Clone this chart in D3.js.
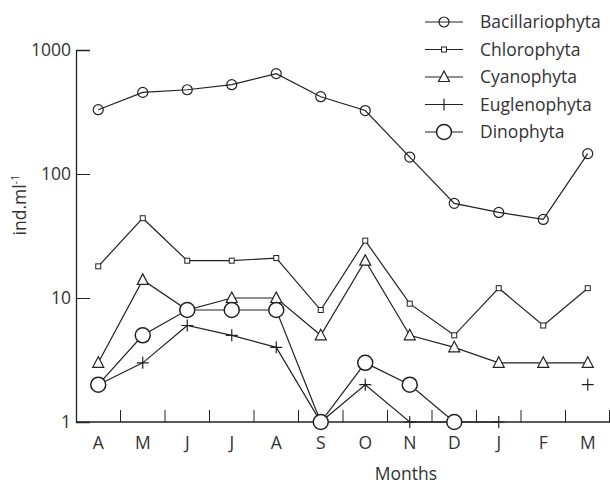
<!DOCTYPE html>
<html>
<head>
<meta charset="utf-8">
<script src="https://cdn.jsdelivr.net/npm/d3@7"></script>
<style>
  body { margin: 0; background: #fff; }
  text { font-family: "Open Sans", "Liberation Sans", Arial, sans-serif; fill: #333; }
</style>
</head>
<body>
<svg id="chart" width="610" height="486"></svg>
<script>
// months (April to March)
var months = ['A','M','J','J','A','S','O','N','D','J','F','M'];

// series values, ind.ml-1 (null = not shown)
var bacillariophyta = [330, 455, 478, 525, 645, 420, 325, 137, 58, 49, 43, 146];
var chlorophyta     = [18, 44, 20, 20, 21, 8, 29, 9, 5, 12, 6, 12];
var cyanophyta      = [3, 14, 8, 10, 10, 5, 20, 5, 4, 3, 3, 3];
var euglenophyta    = [2, 3, 6, 5, 4, 1, 2, 1, 1, 1, null, 2];
var dinophyta       = [2, 5, 8, 8, 8, 1, 3, 2, 1, null, null, null];

var yTicks = [1, 10, 100, 1000];

var series = [
  {name:'Bacillariophyta', values:bacillariophyta, marker:'smallcircle'},
  {name:'Chlorophyta', values:chlorophyta, marker:'square'},
  {name:'Cyanophyta', values:cyanophyta, marker:'triangle'},
  {name:'Euglenophyta', values:euglenophyta, marker:'plus'},
  {name:'Dinophyta', values:dinophyta, marker:'circle'}
];

var svg = d3.select('#chart');
var ink = '#222';
var fs = '17.5px';

var x = d3.scaleBand().domain(d3.range(months.length)).range([76, 610]);
var y = d3.scaleLog().domain([1, 1000]).range([422, 50]);

// y axis
var yAxis = svg.append('g')
  .attr('transform', 'translate(76,0)')
  .call(d3.axisLeft(y).tickValues(yTicks).tickSize(-14).tickPadding(5).tickFormat(d3.format('d')));
yAxis.select('.domain').attr('stroke', ink).attr('stroke-width', 1.3);
yAxis.selectAll('.tick line').attr('stroke', ink);
yAxis.selectAll('.tick text').style('font-size', fs).attr('fill', '#333')
  .style('font-family', '"Open Sans", "Liberation Sans", Arial, sans-serif');

// x axis: line + ticks at band edges
var gx = svg.append('g');
gx.append('line')
  .attr('x1', 76).attr('x2', 610)
  .attr('y1', y(1)).attr('y2', y(1))
  .attr('stroke', ink).attr('stroke-width', 1.3);
gx.selectAll('.edge').data(d3.range(1, months.length + 1))
  .enter().append('line')
  .attr('x1', function(i) { return Math.min(x(0) + i * x.bandwidth(), 609.5); })
  .attr('x2', function(i) { return Math.min(x(0) + i * x.bandwidth(), 609.5); })
  .attr('y1', y(1)).attr('y2', y(1) - 12)
  .attr('stroke', ink);
gx.selectAll('.mlabel').data(months)
  .enter().append('text')
  .attr('x', function(d, i) { return x(i) + x.bandwidth() / 2; })
  .attr('y', 449)
  .attr('text-anchor', 'middle')
  .style('font-size', fs)
  .text(function(d) { return d; });

svg.append('text')
  .attr('x', 406).attr('y', 480)
  .attr('text-anchor', 'middle')
  .style('font-size', fs)
  .text('Months');

// y label
var yl = svg.append('text')
  .attr('transform', 'translate(26,205) rotate(-90)')
  .attr('text-anchor', 'middle')
  .style('font-size', fs);
yl.append('tspan').text('ind.ml');
yl.append('tspan').attr('dy', -7).style('font-size', '11px').text('-1');

// markers
function drawMarker(g, type, cx, cy) {
  if (type === 'smallcircle') {
    g.append('circle').attr('cx', cx).attr('cy', cy).attr('r', 5)
      .attr('fill', 'none').attr('stroke', ink).attr('stroke-width', 1.2);
  } else if (type === 'circle') {
    g.append('circle').attr('cx', cx).attr('cy', cy).attr('r', 7.5)
      .attr('fill', '#fff').attr('stroke', ink).attr('stroke-width', 1.5);
  } else if (type === 'square') {
    g.append('rect').attr('x', cx - 2.5).attr('y', cy - 2.5).attr('width', 5).attr('height', 5)
      .attr('fill', '#fff').attr('stroke', ink).attr('stroke-width', 1);
  } else if (type === 'triangle') {
    g.append('path')
      .attr('d', 'M' + cx + ',' + (cy - 6) + 'L' + (cx + 5.5) + ',' + (cy + 4.5) + 'L' + (cx - 5.5) + ',' + (cy + 4.5) + 'Z')
      .attr('fill', '#fff').attr('stroke', ink).attr('stroke-width', 1.2);
  } else if (type === 'plus') {
    g.append('path')
      .attr('d', 'M' + (cx - 6) + ',' + cy + 'H' + (cx + 6) + 'M' + cx + ',' + (cy - 6) + 'V' + (cy + 6))
      .attr('stroke', ink).attr('stroke-width', 1.2);
  }
}

var line = d3.line()
  .defined(function(d) { return d != null; })
  .x(function(d, i) { return x(i) + x.bandwidth() / 2; })
  .y(function(d) { return y(d); });

series.forEach(function(s) {
  svg.append('path')
    .attr('d', line(s.values))
    .attr('fill', 'none')
    .attr('stroke', ink)
    .attr('stroke-width', 1.2);
});
series.forEach(function(s) {
  var g = svg.append('g');
  s.values.forEach(function(v, i) {
    if (v == null) return;
    drawMarker(g, s.marker, x(i) + x.bandwidth() / 2, y(v));
  });
});

// legend
var legend = svg.append('g');
series.forEach(function(s, i) {
  var ly = 22 + i * 27.5;
  legend.append('line')
    .attr('x1', 425).attr('x2', 463)
    .attr('y1', ly).attr('y2', ly)
    .attr('stroke', ink).attr('stroke-width', 1.2);
  drawMarker(legend, s.marker, 444, ly);
  legend.append('text')
    .attr('x', 480).attr('y', ly + 6)
    .style('font-size', fs)
    .text(s.name);
});
</script>
</body>
</html>
